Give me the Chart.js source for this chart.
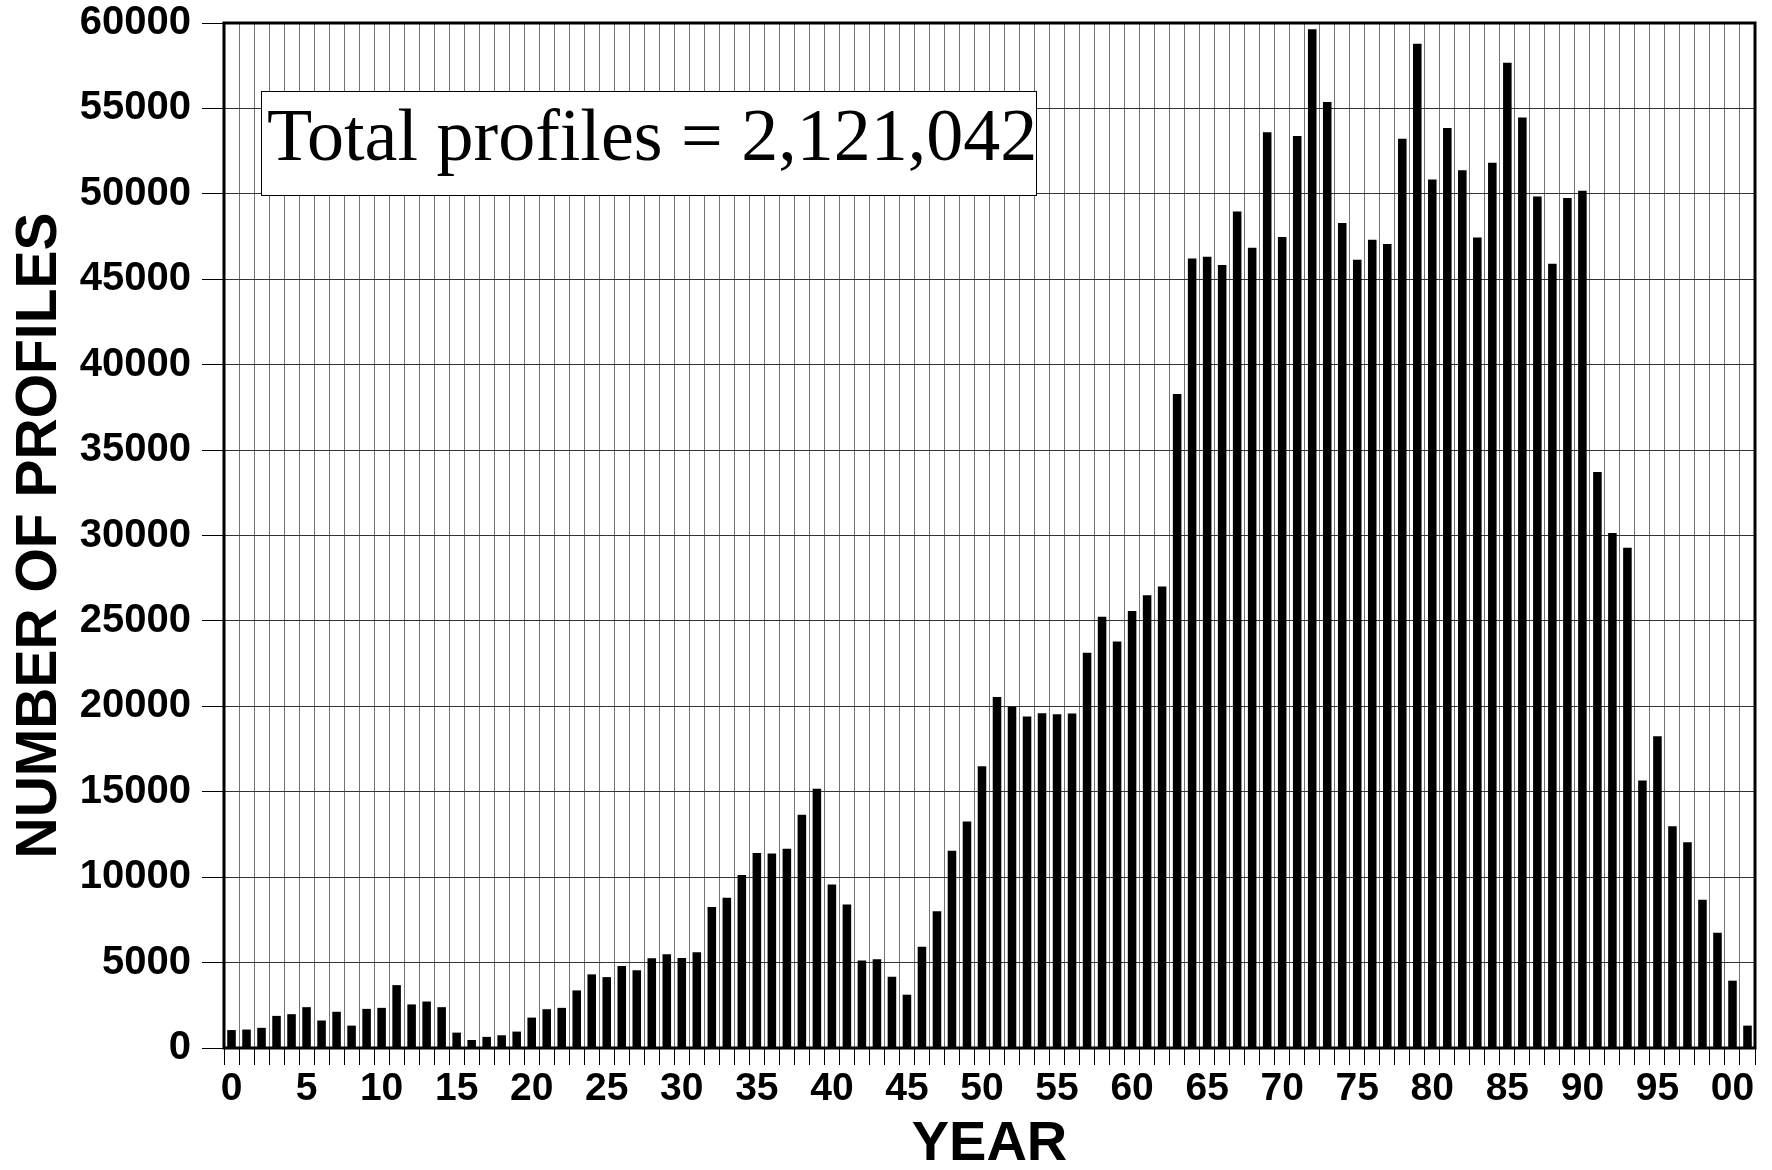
<!DOCTYPE html>
<html>
<head>
<meta charset="utf-8">
<script src="https://cdn.jsdelivr.net/npm/chart.js@4.4.0/dist/chart.umd.min.js"></script>
<style>
  html, body { margin: 0; padding: 0; background: #ffffff; }
  #wrap { width: 1772px; height: 1170px; }
</style>
</head>
<body>
<div id="wrap"><canvas id="c" width="1772" height="1170"></canvas></div>
<script>
// ---- data ----
const yearLabels = [
  '0','1','2','3','4','5','6','7','8','9',
  '10','11','12','13','14','15','16','17','18','19',
  '20','21','22','23','24','25','26','27','28','29',
  '30','31','32','33','34','35','36','37','38','39',
  '40','41','42','43','44','45','46','47','48','49',
  '50','51','52','53','54','55','56','57','58','59',
  '60','61','62','63','64','65','66','67','68','69',
  '70','71','72','73','74','75','76','77','78','79',
  '80','81','82','83','84','85','86','87','88','89',
  '90','91','92','93','94','95','96','97','98','99',
  '00','01'
];
const tickLabels = ['0','5','10','15','20','25','30','35','40','45','50','55','60','65','70','75','80','85','90','95','00'];
const profiles = [
  1050, 1080, 1180, 1880, 1980, 2390, 1610, 2120, 1310, 2290,
  2350, 3680, 2550, 2720, 2390, 900, 470, 650, 745, 960,
  1780, 2270, 2350, 3370, 4310, 4150, 4800, 4550, 5250, 5490,
  5270, 5610, 8250, 8790, 10120, 11420, 11390, 11670, 13650, 15180,
  9570, 8400, 5120, 5190, 4170, 3120, 5920, 8000, 11540, 13260,
  16490, 20550, 19980, 19400, 19600, 19530, 19580, 23140, 25250, 23790,
  25580, 26500, 27020, 38280, 46210, 46320, 45840, 48970, 46840, 53600,
  47480, 53380, 59630, 55370, 48300, 46140, 47310, 47060, 53230, 58790,
  50840, 53850, 51380, 47440, 51820, 57680, 54470, 49840, 45910, 49760,
  50180, 33720, 30150, 29290, 15660, 18250, 12980, 12040, 8680, 6740,
  3940, 1310
];
const yMin = 0;
const yMax = 60000;
const yStep = 5000;
const yTitle = 'NUMBER OF PROFILES';
const xTitle = 'YEAR';
const annotationText = 'Total profiles = 2,121,042';

// ---- styles ----
const SANS = '"Liberation Sans", Arial, Helvetica, sans-serif';
const SERIF = '"Liberation Serif", "Times New Roman", Times, serif';

const framePlugin = {
  id: 'frameAndNote',
  afterDatasetsDraw(chart) {
    const { ctx, chartArea: a } = chart;
    ctx.save();
    // annotation box
    const bx = a.left + 37, by = a.top + 68, bw = 775, bh = 104;
    ctx.fillStyle = '#ffffff';
    ctx.fillRect(bx, by, bw, bh);
    ctx.strokeStyle = '#000000';
    ctx.lineWidth = 1;
    ctx.strokeRect(bx + 0.5, by + 0.5, bw, bh);
    ctx.fillStyle = '#000000';
    ctx.font = '74px ' + SERIF;
    ctx.textAlign = 'left';
    ctx.textBaseline = 'alphabetic';
    ctx.fillText(annotationText, bx + 6, by + 69);
    // heavy frame
    ctx.lineWidth = 3;
    ctx.strokeStyle = '#000000';
    ctx.strokeRect(a.left, a.top, a.right - a.left, a.bottom - a.top);
    ctx.restore();
  }
};

new Chart(document.getElementById('c'), {
  type: 'bar',
  data: {
    labels: yearLabels,
    datasets: [{
      data: profiles,
      backgroundColor: '#000000',
      borderWidth: 0,
      barPercentage: 0.57,
      categoryPercentage: 1.0
    }]
  },
  options: {
    responsive: false,
    animation: false,
    devicePixelRatio: 1,
    layout: { padding: { left: 0, right: 17, top: 23, bottom: 0 } },
    plugins: { legend: { display: false }, tooltip: { enabled: false } },
    scales: {
      x: {
        type: 'category',
        offset: true,
        border: { display: false },
        grid: {
          offset: true,
          color: 'rgba(0,0,0,0.55)',
          lineWidth: 1,
          drawTicks: true,
          tickLength: 17,
          tickColor: '#000000',
          tickWidth: 1
        },
        ticks: {
          autoSkip: false,
          maxRotation: 0,
          minRotation: 0,
          padding: 1,
          color: '#000000',
          font: { family: SANS, size: 39, weight: 'bold', lineHeight: 1.2 },
          callback: function (val, idx) { return idx % 5 === 0 ? tickLabels[idx / 5] : ''; }
        },
        title: {
          display: true,
          text: xTitle,
          color: '#000000',
          font: { family: SANS, size: 56, weight: 'bold', lineHeight: 0.8 },
          padding: { top: 0, bottom: 3 }
        },
        afterFit: function (scale) { scale.height = 122; scale.paddingLeft = 0; scale.paddingRight = 0; }
      },
      y: {
        min: yMin,
        max: yMax,
        border: { display: false },
        grid: {
          color: '#333333',
          lineWidth: 1,
          drawTicks: true,
          tickLength: 22,
          tickColor: '#000000',
          tickWidth: 1
        },
        ticks: {
          stepSize: yStep,
          padding: 11,
          color: '#000000',
          font: { family: SANS, size: 40, weight: 'bold', lineHeight: 1.1 },
          callback: function (v) { return String(v); }
        },
        title: {
          display: true,
          text: yTitle,
          color: '#000000',
          font: { family: SANS, size: 57, weight: 'bold', lineHeight: 1 },
          padding: { top: 12, bottom: 0 }
        },
        afterFit: function (scale) { scale.width = 224; scale.paddingTop = 0; scale.paddingBottom = 0; }
      }
    }
  },
  plugins: [framePlugin]
});
</script>
</body>
</html>
